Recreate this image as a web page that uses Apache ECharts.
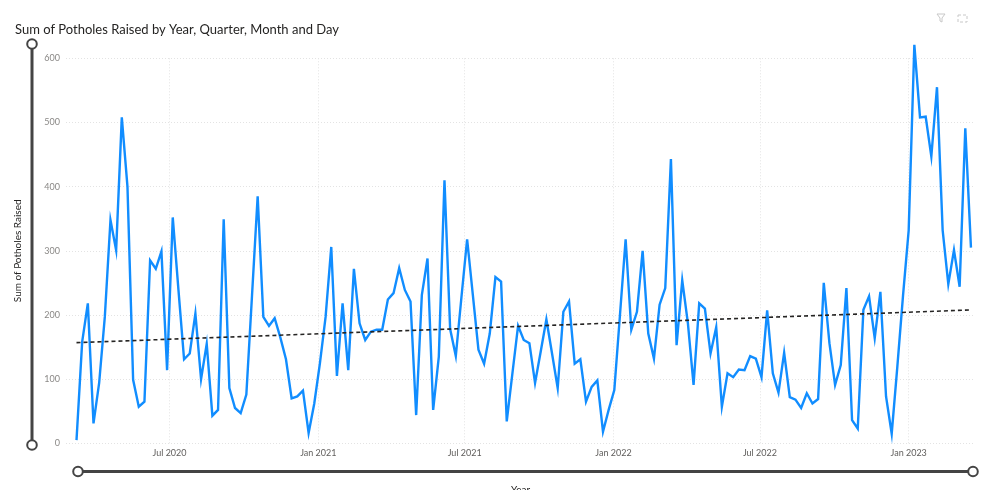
<!DOCTYPE html>
<html>
<head>
<meta charset="utf-8">
<script src="https://cdn.jsdelivr.net/npm/echarts@6/dist/echarts.min.js"></script>
<style>
  html, body { margin: 0; padding: 0; background: #ffffff; }
  #chart { width: 983px; height: 490px; }
</style>
</head>
<body>
<div id="chart"></div>
<script>
// ---- Data (weekly sums of potholes raised) ----
var firstWeek = [2020, 2, 8]; // 8 Mar 2020, one point per week
var potholes2020 = [5, 158, 218, 31, 94, 197, 348, 301, 508, 400, 99, 57, 65, 285, 272, 299, 114, 352, 240, 131,
  140, 202, 100, 155, 43, 52, 349, 86, 55, 47, 76, 230, 385, 197, 183, 195, 165, 131, 70, 73, 82, 16, 62];
var potholes2021 = [125, 197, 306, 105, 218, 114, 272, 187, 161, 174, 177, 177, 224, 234, 273, 239, 221, 44, 231, 288,
  52, 135, 410, 178, 136, 228, 318, 232, 146, 124, 171, 259, 252, 34, 109, 183, 161, 156, 94, 143, 193, 140, 86, 205,
  221, 124, 131, 65, 88, 98, 18, 52];
var potholes2022 = [83, 200, 318, 177, 205, 300, 171, 132, 216, 242, 443, 153, 254, 187, 91, 218, 210, 140, 181, 57,
  109, 103, 115, 114, 136, 132, 103, 207, 109, 79, 141, 72, 68, 55, 78, 62, 69, 250, 156, 91, 122, 242, 36, 23, 208,
  229, 164, 236, 73, 15, 120, 230];
var potholes2023 = [332, 621, 508, 509, 447, 555, 332, 248, 301, 244, 491, 305];
var axisTickDates = [[2020, 6, 1], [2021, 0, 1], [2021, 6, 1], [2022, 0, 1], [2022, 6, 1], [2023, 0, 1]];
var monthNames = ['Jan', 'Feb', 'Mar', 'Apr', 'May', 'Jun', 'Jul', 'Aug', 'Sep', 'Oct', 'Nov', 'Dec'];
var yTicks = [0, 100, 200, 300, 400, 500, 600];

// ---- Build series ----
var allValues = potholes2020.concat(potholes2021, potholes2022, potholes2023);
var start = new Date(firstWeek[0], firstWeek[1], firstWeek[2]);
var seriesData = allValues.map(function (v, i) {
  var d = new Date(start.getFullYear(), start.getMonth(), start.getDate() + 7 * i);
  return [d.getTime(), v];
});

// linear trend (least squares over the points)
var n = seriesData.length, sx = 0, sy = 0, sxx = 0, sxy = 0;
seriesData.forEach(function (p, i) { sx += i; sy += p[1]; sxx += i * i; sxy += i * p[1]; });
var slope = (n * sxy - sx * sy) / (n * sxx - sx * sx);
var icpt = (sy - slope * sx) / n;
var trendData = [
  [seriesData[0][0], icpt],
  [seriesData[n - 1][0], icpt + slope * (n - 1)]
];

var tickValues = axisTickDates.map(function (d) { return new Date(d[0], d[1], d[2]).getTime(); });
var xMin = new Date(2020, 1, 24).getTime();
var xMax = new Date(2023, 2, 24).getTime();

var chart = echarts.init(document.getElementById('chart'), null, { renderer: 'canvas' });
var labelFont = 'Lato, "Open Sans", "DejaVu Sans", sans-serif';

chart.setOption({
  animation: false,
  backgroundColor: '#ffffff',
  title: {
    text: 'Sum of Potholes Raised by Year, Quarter, Month and Day',
    left: 10, top: 18,
    textStyle: { fontFamily: labelFont, fontSize: 13, fontWeight: 'normal', color: '#252423' }
  },
  grid: { left: 66, right: 8, top: 58.3, bottom: 46.7, containLabel: false, outerBoundsMode: 'none' },
  xAxis: {
    type: 'value',
    min: xMin, max: xMax,
    name: 'Year',
    nameLocation: 'middle',
    nameGap: 41,
    nameTextStyle: { fontFamily: labelFont, fontSize: 10, color: '#252423' },
    axisLine: { show: false },
    axisTick: { show: false, customValues: tickValues },
    axisLabel: {
      customValues: tickValues,
      margin: 5,
      fontFamily: labelFont, fontSize: 9, color: '#605E5C',
      formatter: function (v) { var d = new Date(v); return monthNames[d.getMonth()] + ' ' + d.getFullYear(); }
    },
    splitLine: { show: false }
  },
  yAxis: {
    type: 'value',
    min: yTicks[0], max: yTicks[yTicks.length - 1], interval: 100,
    name: 'Sum of Potholes Raised',
    nameLocation: 'middle',
    nameRotate: 90,
    nameGap: 43,
    nameTextStyle: { fontFamily: labelFont, fontSize: 10, color: '#252423' },
    axisLine: { show: false },
    axisTick: { show: false },
    axisLabel: { fontFamily: labelFont, fontSize: 9, color: '#8a8886', margin: 6 },
    splitLine: { show: true, lineStyle: { color: '#e3e3e3', type: [1, 2], width: 1 } }
  },
  series: [
    {
      name: 'grid',
      type: 'line',
      data: [],
      silent: true,
      z: 1,
      markLine: {
        silent: true,
        z: 1,
        symbol: ['none', 'none'],
        label: { show: false },
        lineStyle: { color: '#e3e3e3', type: [1, 2], width: 1 },
        data: tickValues.map(function (t) { return { xAxis: t }; })
      }
    },
    {
      name: 'Sum of Potholes Raised',
      type: 'line',
      data: seriesData,
      showSymbol: false,
      symbol: 'none',
      clip: false,
      z: 3,
      lineStyle: { color: '#118DFF', width: 2.4, join: 'miter' },
      itemStyle: { color: '#118DFF' }
    },
    {
      name: 'Trend',
      type: 'line',
      data: trendData,
      showSymbol: false,
      symbol: 'none',
      z: 4,
      lineStyle: { color: '#252423', width: 1.6, type: [4, 3] }
    }
  ],
  graphic: [
    { type: 'line', shape: { x1: 32, y1: 48, x2: 32, y2: 441 }, style: { stroke: '#444444', lineWidth: 3 } },
    { type: 'circle', shape: { cx: 32, cy: 44, r: 4.8 }, style: { fill: '#ffffff', stroke: '#444444', lineWidth: 2 } },
    { type: 'circle', shape: { cx: 32, cy: 445, r: 4.8 }, style: { fill: '#ffffff', stroke: '#444444', lineWidth: 2 } },
    { type: 'line', shape: { x1: 82, y1: 471.5, x2: 969, y2: 471.5 }, style: { stroke: '#444444', lineWidth: 3 } },
    { type: 'circle', shape: { cx: 78, cy: 471.5, r: 4.8 }, style: { fill: '#ffffff', stroke: '#444444', lineWidth: 2 } },
    { type: 'circle', shape: { cx: 973, cy: 471.5, r: 4.8 }, style: { fill: '#ffffff', stroke: '#444444', lineWidth: 2 } },
    { type: 'polygon', shape: { points: [[937, 14], [945, 14], [942, 18], [942, 22], [940, 21], [940, 18]] },
      style: { fill: 'none', stroke: '#c8c8c8', lineWidth: 1 } },
    { type: 'rect', shape: { x: 958, y: 15, width: 9, height: 7 }, style: { fill: 'none', stroke: '#c8c8c8', lineWidth: 1, lineDash: [3, 2] } }
  ]
});
</script>
</body>
</html>
